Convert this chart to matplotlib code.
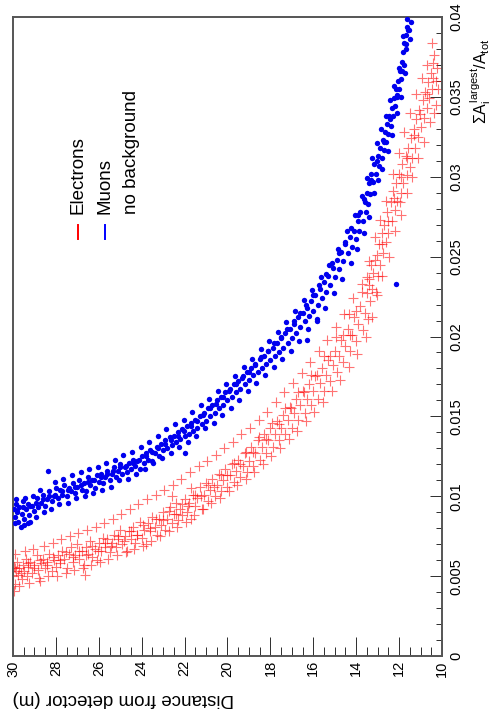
import matplotlib
matplotlib.use("Agg")
import matplotlib.pyplot as plt
from matplotlib.lines import Line2D
from matplotlib.ticker import MultipleLocator, FixedLocator

plt.rcParams['font.family'] = ['Liberation Sans', 'DejaVu Sans']
plt.rcParams['mathtext.fontset'] = 'custom'
plt.rcParams['mathtext.rm'] = 'Liberation Sans'
plt.rcParams['mathtext.it'] = 'Liberation Sans'

# ---- data: (distance from detector [m], sum A_largest / A_tot) ----
muon_points = [
    (29.95,0.0092),(29.9,0.0087),(29.88,0.0095),(29.8,0.0090),(29.75,0.0084),(29.7,0.0093),(29.6,0.0089),
    (29.55,0.0097),(29.5,0.0086),(29.4,0.0092),(29.3,0.0095),(29.25,0.0088),(29.1,0.0094),(29.0,0.0091),
    (28.9,0.0099),(28.85,0.0093),(28.7,0.0096),(28.6,0.0101),(28.5,0.0094),(28.4,0.0098),(28.3,0.0103),
    (28.2,0.0097),(28.1,0.0100),(28.0,0.0105),(28.37,0.0116),(29.5,0.0082),(29.3,0.0083),
    (27.9,0.0099),(27.8,0.0104),(27.7,0.0101),(27.6,0.0107),(27.5,0.0100),(27.4,0.0105),(27.3,0.0103),
    (27.2,0.0108),(27.1,0.0102),(27.0,0.0106),(26.9,0.0110),(26.8,0.0104),(26.7,0.0108),(26.6,0.0103),
    (26.5,0.0112),(26.4,0.0107),(26.3,0.0110),(26.2,0.0105),(26.1,0.0113),(26.0,0.0109),(25.9,0.0114),
    (25.8,0.0108),
    (25.7,0.0112),(25.6,0.0116),(25.5,0.0110),(25.4,0.0114),(25.3,0.0118),(25.2,0.0112),(25.1,0.0116),
    (25.0,0.0120),(24.9,0.0114),(24.8,0.0118),(24.7,0.0115),(24.6,0.0121),(24.5,0.0117),(24.4,0.0123),
    (24.3,0.0119),(24.2,0.0122),(24.1,0.0117),(24.0,0.0125),(23.9,0.0121),(23.8,0.0127),(23.7,0.0123),
    (23.6,0.0129),(23.5,0.0122),
    (23.4,0.0127),(23.3,0.0131),(23.2,0.0125),(23.1,0.0133),(23.0,0.0129),(22.9,0.0135),(22.8,0.0130),
    (22.7,0.0137),(22.6,0.0132),(22.5,0.0138),(22.4,0.0134),(22.3,0.0140),(22.2,0.0136),(22.1,0.0142),
    (22.0,0.0138),(21.9,0.0144),(21.8,0.0139),(21.7,0.0146),(21.6,0.0141),(21.5,0.0148),(21.4,0.0143),
    (21.3,0.0150),(21.2,0.0145),(21.98,0.0127),
    (21.1,0.0152),(21.0,0.0147),(20.9,0.0155),(20.8,0.0150),(20.7,0.0157),(20.6,0.0152),(20.5,0.0160),
    (20.4,0.0155),(20.3,0.0162),(20.2,0.0157),(20.1,0.0165),(20.0,0.0160),(19.9,0.0167),(19.8,0.0162),
    (19.7,0.0170),(19.6,0.0165),(19.5,0.0172),(19.4,0.0167),(19.3,0.0175),(19.2,0.0170),(19.1,0.0178),
    (19.0,0.0173),(18.9,0.0180),
    (18.8,0.0176),(18.7,0.0183),(18.6,0.0178),(18.5,0.0186),(18.4,0.0180),(18.3,0.0188),(18.2,0.0183),
    (18.1,0.0191),(18.0,0.0185),(17.9,0.0193),(17.8,0.0188),(17.7,0.0196),(17.6,0.0190),(17.5,0.0199),
    (17.4,0.0193),(17.3,0.0202),(17.2,0.0196),(17.1,0.0205),(17.0,0.0199),(16.9,0.0208),(16.8,0.0202),
    (16.7,0.0212),(16.6,0.0206),(16.5,0.0215),(15.83,0.0210),(16.3,0.0198),
    (16.4,0.0210),(16.3,0.0218),(16.2,0.0213),(16.1,0.0222),(16.0,0.0216),(15.9,0.0226),(15.8,0.0220),
    (15.7,0.0230),(15.6,0.0224),(15.5,0.0234),(15.4,0.0228),(15.3,0.0238),(15.2,0.0232),(15.1,0.0243),
    (15.0,0.0237),(14.9,0.0248),(14.8,0.0242),(14.7,0.0253),(14.6,0.0247),(14.5,0.0258),
    (14.4,0.0252),(14.3,0.0262),(14.2,0.0256),(14.1,0.0266),(14.0,0.0261),(13.9,0.0272),(13.85,0.0266),
    (13.8,0.0278),(13.7,0.0272),(13.6,0.0284),(13.55,0.0278),(13.5,0.0290),(13.45,0.0283),(13.4,0.0296),
    (13.35,0.0289),(13.3,0.0302),
    (13.2,0.0297),(13.15,0.0308),(13.1,0.0302),(13.0,0.0313),(12.95,0.0307),(12.9,0.0318),(12.8,0.0312),
    (12.75,0.0323),(12.7,0.0317),(12.65,0.0328),(12.6,0.0322),(12.55,0.0333),(12.5,0.0327),(12.45,0.0338),
    (12.4,0.0332),(12.35,0.0343),
    (12.3,0.0338),(12.25,0.0349),(12.2,0.0344),(12.15,0.0355),(12.1,0.0350),(12.05,0.0360),(12.0,0.0355),
    (11.95,0.0366),(11.9,0.0361),(11.85,0.0372),(11.8,0.0378),(11.78,0.0370),(11.75,0.0384),(11.7,0.0389),
    (11.68,0.0380),(11.65,0.0394),(11.63,0.0399),(11.45,0.0397),(11.55,0.0392),(12.14,0.0233),
    # wider scatter
    (29.92,0.0083),(29.85,0.0098),(29.65,0.0081),(29.45,0.0099),(29.2,0.0084),(29.05,0.0100),(28.95,0.0087),
    (28.75,0.0104),(28.55,0.0090),(28.25,0.0092),(28.05,0.0109),(27.85,0.0095),(27.65,0.0111),(27.45,0.0096),
    (27.25,0.0113),(27.05,0.0099),(26.85,0.0115),(26.65,0.0100),(26.45,0.0117),(26.25,0.0102),(26.05,0.0118),
    (25.85,0.0104),(25.65,0.0121),(25.45,0.0106),(25.25,0.0123),(25.05,0.0110),(24.85,0.0126),(24.65,0.0111),
    (24.45,0.0128),(24.25,0.0114),(24.05,0.0131),(23.85,0.0117),(23.65,0.0134),(23.45,0.0121),(23.25,0.0138),
    (23.05,0.0124),(22.85,0.0142),(22.65,0.0127),(22.45,0.0145),(22.25,0.0131),(22.05,0.0148),(21.85,0.0134),
    (21.65,0.0153),(21.45,0.0138),(21.25,0.0157),(21.05,0.0143),(20.85,0.0161),(20.65,0.0146),(20.45,0.0166),
    (20.25,0.0151),(20.05,0.0170),(19.85,0.0155),(19.65,0.0175),(19.45,0.0160),(19.25,0.0181),(19.05,0.0166),
    (18.85,0.0186),(18.65,0.0171),(18.45,0.0192),(18.25,0.0176),(18.05,0.0197),(17.85,0.0181),(17.65,0.0203),
    (17.45,0.0186),(17.25,0.0209),(17.05,0.0191),(16.85,0.0216),(16.65,0.0197),(16.45,0.0223),(16.25,0.0205),
    (16.05,0.0229),(15.85,0.0211),(15.65,0.0237),(15.45,0.0218),(15.25,0.0245),(15.05,0.0227),(14.85,0.0255),
    (14.65,0.0236),(14.45,0.0266),(14.25,0.0246),(14.05,0.0276),(13.95,0.0255),(13.75,0.0288),(13.65,0.0265),
    (13.48,0.0299),(13.42,0.0275),(13.25,0.0312),(13.18,0.0290),(13.05,0.0321),(12.98,0.0298),(12.85,0.0330),
    (12.78,0.0305),(12.62,0.0338),(12.52,0.0316),(12.42,0.0348),(12.32,0.0326),(12.22,0.0357),(12.12,0.0340),
    (12.02,0.0368),(11.92,0.0350),(11.82,0.0388),(11.72,0.0365),(11.6,0.0392),(11.5,0.0386),
    # band core
    (29.82,0.0091),(29.52,0.0093),(29.22,0.0094),(28.92,0.0096),(28.62,0.0098),(28.32,0.0100),(28.02,0.0101),
    (27.72,0.0103),(27.42,0.0104),(27.12,0.0106),(26.82,0.0107),(26.52,0.0109),(26.22,0.0110),(25.92,0.0112),
    (25.62,0.0114),(25.32,0.0116),(25.02,0.0118),(24.72,0.0119),(24.42,0.0121),(24.12,0.0123),(23.82,0.0125),
    (23.52,0.0128),(23.22,0.0130),(22.92,0.0133),(22.62,0.0135),(22.32,0.0138),(22.02,0.0141),(21.72,0.0144),
    (21.42,0.0147),(21.12,0.0151),(20.82,0.0155),(20.52,0.0158),(20.22,0.0162),(19.92,0.0166),(19.62,0.0170),
    (19.32,0.0174),(19.02,0.0178),(18.72,0.0182),(18.42,0.0187),(18.12,0.0191),(17.82,0.0196),(17.52,0.0200),
    (17.22,0.0205),(16.92,0.0210),(16.62,0.0215),(16.32,0.0220),(16.02,0.0226),(15.72,0.0232),(15.42,0.0239),
    (15.12,0.0246),(14.82,0.0252),(14.52,0.0259),(14.22,0.0268),(13.92,0.0276),(13.62,0.0286),(13.32,0.0298),
    (13.02,0.0310),(12.72,0.0322),(12.42,0.0336),(12.12,0.0351),(11.87,0.0366),(11.67,0.0383),
]

electron_points = [
    (29.98,0.0050),(29.95,0.0056),(29.9,0.0045),(29.85,0.0053),(29.8,0.0059),(29.75,0.0051),(29.7,0.0055),
    (29.6,0.0048),(29.55,0.0057),(29.5,0.0053),(29.4,0.0061),(29.35,0.0050),(29.3,0.0056),(29.2,0.0059),
    (29.1,0.0052),(29.0,0.0057),(28.9,0.0063),(28.85,0.0054),(28.8,0.0049),(28.7,0.0058),(28.6,0.0061),
    (28.5,0.0055),(28.4,0.0059),(28.3,0.0064),(28.2,0.0053),
    (28.1,0.0060),(28.0,0.0056),(27.9,0.0063),(27.8,0.0058),(27.7,0.0066),(27.6,0.0061),(27.5,0.0055),
    (27.4,0.0064),(27.3,0.0068),(27.2,0.0059),(27.1,0.0063),(27.0,0.0070),(26.9,0.0061),(26.8,0.0066),
    (26.7,0.0057),(26.6,0.0068),(26.5,0.0064),(26.4,0.0072),(26.3,0.0062),(26.2,0.0067),(26.1,0.0060),
    (26.0,0.0071),(25.9,0.0066),(25.8,0.0074),(26.64,0.0051),
    (25.7,0.0068),(25.6,0.0073),(25.5,0.0065),(25.4,0.0071),(25.3,0.0076),(25.2,0.0068),(25.1,0.0073),
    (25.0,0.0079),(24.9,0.0070),(24.8,0.0075),(24.7,0.0066),(24.6,0.0078),(24.5,0.0073),(24.4,0.0081),
    (24.3,0.0071),(24.2,0.0076),(24.1,0.0084),(24.0,0.0074),(23.9,0.0079),(23.8,0.0070),(23.7,0.0083),
    (23.6,0.0078),(23.5,0.0087),
    (23.4,0.0081),(23.3,0.0076),(23.2,0.0086),(23.1,0.0082),(23.0,0.0090),(22.9,0.0079),(22.8,0.0086),
    (22.7,0.0093),(22.6,0.0083),(22.5,0.0089),(22.4,0.0096),(22.3,0.0085),(22.2,0.0092),(22.1,0.0088),
    (22.0,0.0098),(21.9,0.0090),(21.8,0.0096),(21.7,0.0086),(21.6,0.0101),(21.5,0.0094),(21.4,0.0099),
    (21.3,0.0106),(21.2,0.0092),(22.59,0.0100),(21.7,0.0105),
    (21.1,0.0101),(21.0,0.0108),(20.9,0.0097),(20.8,0.0104),(20.7,0.0111),(20.6,0.0100),(20.5,0.0107),
    (20.4,0.0114),(20.3,0.0103),(20.2,0.0110),(20.1,0.0117),(20.0,0.0106),(19.9,0.0113),(19.8,0.0120),
    (19.7,0.0109),(19.6,0.0116),(19.5,0.0123),(19.4,0.0112),(19.3,0.0119),(19.2,0.0127),(19.1,0.0115),
    (19.0,0.0122),(18.9,0.0131),
    (18.8,0.0119),(18.7,0.0127),(18.6,0.0135),(18.5,0.0123),(18.4,0.0131),(18.3,0.0139),(18.2,0.0127),
    (18.1,0.0135),(18.0,0.0143),(17.9,0.0131),(17.8,0.0139),(17.7,0.0147),(17.6,0.0135),(17.5,0.0143),
    (17.4,0.0151),(17.3,0.0139),(17.2,0.0148),(17.1,0.0156),(17.0,0.0143),(16.9,0.0152),(16.8,0.0161),
    (16.7,0.0148),(16.6,0.0157),(16.5,0.0166),
    (16.4,0.0152),(16.3,0.0161),(16.2,0.0170),(16.1,0.0157),(16.0,0.0166),(15.9,0.0175),(15.8,0.0161),
    (15.7,0.0171),(15.6,0.0180),(15.5,0.0166),(15.4,0.0176),(15.3,0.0185),(15.2,0.0172),(15.1,0.0182),
    (15.0,0.0191),(14.9,0.0178),(14.8,0.0188),(14.7,0.0198),(14.6,0.0184),(14.5,0.0194),(14.4,0.0205),
    (14.3,0.0191),(14.2,0.0201),(14.1,0.0212),(14.0,0.0197),(13.9,0.0208),(13.8,0.0219),(13.7,0.0204),
    (13.6,0.0215),(13.5,0.0227),(13.45,0.0211),(13.4,0.0236),(13.35,0.0222),(13.3,0.0245),(13.25,0.0230),
    (14.29,0.0201),(13.5,0.0237),
    (13.2,0.0240),(13.1,0.0228),(13.05,0.0251),(13.0,0.0238),(12.95,0.0258),(12.9,0.0245),(12.8,0.0265),
    (12.75,0.0252),(12.7,0.0270),(12.6,0.0259),(12.55,0.0278),(12.5,0.0265),(12.4,0.0284),(12.35,0.0272),
    (12.3,0.0291),(12.2,0.0279),(12.15,0.0296),(11.96,0.0284),
    (12.1,0.0285),(12.0,0.0302),(11.9,0.0290),(11.85,0.0308),(11.8,0.0296),(11.7,0.0313),(11.65,0.0301),
    (11.6,0.0318),(11.5,0.0306),(11.45,0.0324),(11.4,0.0312),(11.3,0.0330),(11.25,0.0318),(11.2,0.0336),
    (11.1,0.0325),(11.05,0.0342),(11.0,0.0331),(10.9,0.0348),(10.85,0.0337),(10.8,0.0353),(10.7,0.0343),
    (10.65,0.0359),(10.6,0.0349),(10.5,0.0365),(10.45,0.0355),(10.4,0.0371),(10.3,0.0360),(10.25,0.0368),
    (10.47,0.0384),
    # wider scatter
    (29.97,0.0041),(29.9,0.0064),(29.7,0.0044),(29.45,0.0066),(29.25,0.0046),(29.05,0.0067),(28.75,0.0047),
    (28.55,0.0069),(28.35,0.0050),(28.15,0.0071),(27.95,0.0050),(27.75,0.0073),(27.55,0.0052),(27.35,0.0075),
    (27.15,0.0054),(26.95,0.0077),(26.75,0.0055),(26.55,0.0079),(26.35,0.0057),(26.15,0.0081),(25.95,0.0059),
    (25.75,0.0083),(25.55,0.0061),(25.35,0.0086),(25.15,0.0063),(24.95,0.0089),(24.75,0.0065),(24.55,0.0092),
    (24.35,0.0067),(24.15,0.0095),(23.95,0.0069),(23.75,0.0098),(23.55,0.0072),(23.35,0.0101),(23.15,0.0075),
    (22.95,0.0104),(22.75,0.0078),(22.55,0.0107),(22.35,0.0081),(22.15,0.0111),(21.95,0.0084),(21.75,0.0115),
    (21.55,0.0088),(21.35,0.0119),(21.15,0.0092),(20.95,0.0122),(20.75,0.0096),(20.55,0.0126),(20.35,0.0099),
    (20.15,0.0130),(19.95,0.0103),(19.75,0.0134),(19.55,0.0107),(19.35,0.0139),(19.15,0.0111),(18.95,0.0143),
    (18.75,0.0115),(18.55,0.0148),(18.35,0.0120),(18.15,0.0153),(17.95,0.0125),(17.75,0.0159),(17.55,0.0130),
    (17.35,0.0165),(17.15,0.0136),(16.95,0.0171),(16.75,0.0141),(16.55,0.0177),(16.35,0.0147),(16.15,0.0184),
    (15.95,0.0153),(15.75,0.0191),(15.55,0.0159),(15.35,0.0198),(15.15,0.0166),(14.95,0.0206),(14.75,0.0173),
    (14.55,0.0214),(14.35,0.0181),(14.15,0.0224),(13.95,0.0189),(13.75,0.0233),(13.55,0.0200),(13.38,0.0247),
    (13.28,0.0212),(13.12,0.0262),(13.02,0.0226),(12.88,0.0273),(12.78,0.0238),(12.62,0.0285),(12.48,0.0250),
    (12.28,0.0302),(12.18,0.0266),(12.02,0.0315),(11.92,0.0276),(11.75,0.0328),(11.62,0.0290),(11.48,0.0340),
    (11.38,0.0300),(11.22,0.0352),(11.12,0.0312),(10.95,0.0362),(10.85,0.0322),(10.7,0.0370),(10.58,0.0334),
    (10.38,0.0376),(10.28,0.0345),(10.2,0.0355),(10.35,0.0340),
    # band core
    (29.92,0.0055),(29.62,0.0052),(29.32,0.0058),(29.02,0.0055),(28.72,0.0060),(28.42,0.0057),(28.12,0.0062),
    (27.82,0.0060),(27.52,0.0065),(27.22,0.0062),(26.92,0.0066),(26.62,0.0063),(26.32,0.0069),(26.02,0.0066),
    (25.72,0.0071),(25.42,0.0069),(25.12,0.0075),(24.82,0.0072),(24.52,0.0078),(24.22,0.0076),(23.92,0.0082),
    (23.62,0.0080),(23.32,0.0086),(23.02,0.0085),(22.72,0.0091),(22.42,0.0089),(22.12,0.0095),(21.82,0.0094),
    (21.52,0.0101),(21.22,0.0100),(20.92,0.0107),(20.62,0.0106),(20.32,0.0113),(20.02,0.0113),(19.72,0.0121),
    (19.42,0.0120),(19.12,0.0128),(18.82,0.0128),(18.52,0.0137),(18.22,0.0136),(17.92,0.0146),(17.62,0.0145),
    (17.32,0.0155),(17.02,0.0155),(16.72,0.0165),(16.42,0.0165),(16.12,0.0176),(15.82,0.0176),(15.52,0.0188),
    (15.22,0.0188),(14.92,0.0200),(14.62,0.0201),(14.32,0.0214),(14.02,0.0216),(13.72,0.0228),(13.42,0.0232),
    (13.12,0.0248),(12.82,0.0258),(12.52,0.0272),(12.22,0.0287),(11.92,0.0300),(11.62,0.0312),(11.32,0.0326),
    (11.02,0.0339),(10.72,0.0352),(10.42,0.0362),
]

dist_ticks = [10, 12, 14, 16, 18, 20, 22, 24, 26, 28, 30]
ratio_ticks = [0, 0.005, 0.01, 0.015, 0.02, 0.025, 0.03, 0.035, 0.04]
ratio_labels = ["0", "0.005", "0.01", "0.015", "0.02", "0.025", "0.03", "0.035", "0.04"]
legend_labels = ["Electrons", "Muons", "no background"]

muon_dist = [p[0] for p in muon_points]
muon_ratio = [p[1] for p in muon_points]
elec_dist = [p[0] for p in electron_points]
elec_ratio = [p[1] for p in electron_points]

W, H = 493, 721
fig = plt.figure(figsize=(W / 100, H / 100), dpi=100)
L, R, T, B = 13, 442, 17, 656
ax = fig.add_axes([L / W, 1 - B / H, (R - L) / W, (B - T) / H])

ax.scatter(elec_dist, elec_ratio, marker='+', s=45, linewidths=0.8,
           c='#ff0000', alpha=0.55, zorder=2)
ax.scatter(muon_dist, muon_ratio, marker='o', s=15, linewidths=0,
           c='#0000ee', zorder=3)

ax.set_xlim(30, 10)
ax.set_ylim(0, 0.04)

ax.yaxis.tick_right()
ax.xaxis.set_major_locator(FixedLocator(dist_ticks))
ax.xaxis.set_minor_locator(MultipleLocator(0.5))
ax.yaxis.set_major_locator(FixedLocator(ratio_ticks))
ax.yaxis.set_minor_locator(MultipleLocator(0.001))
ax.set_xticklabels([str(t) for t in dist_ticks])
ax.set_yticklabels(ratio_labels)

px = 0.72
ax.tick_params(axis='x', which='major', direction='in', length=19 * px, width=1.0 * px,
               labelsize=10.5, pad=3, labelrotation=90, color='#333333')
ax.tick_params(axis='x', which='minor', direction='in', length=9 * px, width=1.0 * px, color='#333333')
ax.tick_params(axis='y', which='major', direction='in', length=12 * px, width=1.0 * px,
               labelsize=10.5, pad=5, labelrotation=90, color='#333333')
ax.tick_params(axis='y', which='minor', direction='in', length=6 * px, width=1.0 * px, color='#333333')
for lab in ax.get_yticklabels():
    lab.set_va('center')
for sp in ax.spines.values():
    sp.set_color('#555555')
    sp.set_linewidth(1.4)

# axis titles
fig.text(L / W, 1 - 698 / H, "Distance from detector (m)", rotation=180,
         ha='left', va='center', fontsize=13.5)
fig.text(481 / W, 1 - 124 / H, r'$\Sigma A_{i}^{largest}/A_{tot}$', rotation=90,
         ha='center', va='bottom', fontsize=11.5)

# legend
leg_x = [78, 105, 132]
leg_colors = ['red', 'blue', None]
for xx, lab, col in zip(leg_x, legend_labels, leg_colors):
    fig.text(xx / W, 1 - 214 / H, lab, rotation=90, ha='center', va='bottom', fontsize=13.5)
    if col is not None:
        fig.add_artist(Line2D([xx / W, xx / W], [1 - 225 / H, 1 - 239 / H],
                              color=col, lw=1.4, transform=fig.transFigure))

fig.savefig("out.png", dpi=100)
